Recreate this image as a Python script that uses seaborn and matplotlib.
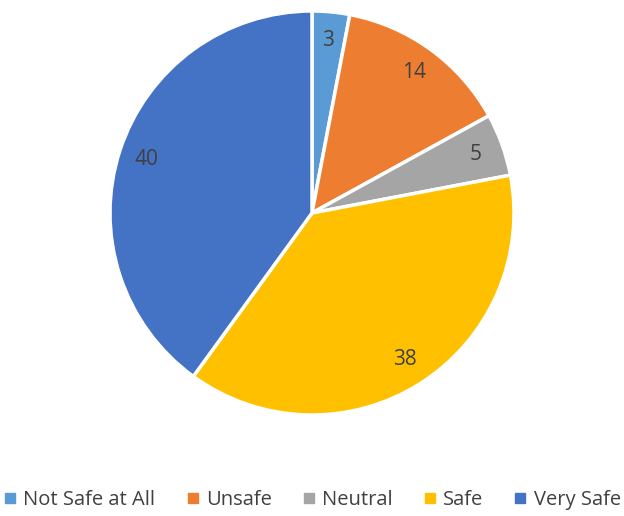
import matplotlib
matplotlib.use("Agg")
import matplotlib.pyplot as plt
from matplotlib.lines import Line2D
import seaborn as sns

categories = ["Not Safe at All", "Unsafe", "Neutral", "Safe", "Very Safe"]
values = [3, 14, 5, 38, 40]
colors = ["#5B9BD5", "#ED7D31", "#A5A5A5", "#FFC000", "#4472C4"]

sns.set_theme(style="white")
plt.rcParams["font.family"] = ["Open Sans", "DejaVu Sans"]

fig = plt.figure(figsize=(6.24, 5.16), dpi=100)
r = 202
cx, cy = 312, 516 - 213
ax = fig.add_axes([(cx - r) / 624, (cy - r) / 516, 2 * r / 624, 2 * r / 516])

ax.pie(values, colors=colors, startangle=90, counterclock=False,
       labels=[str(v) for v in values], labeldistance=0.86,
       wedgeprops=dict(edgecolor="white", linewidth=2.5),
       textprops=dict(fontsize=15, color="#404040", ha="center", va="center"))
ax.set_xlim(-1, 1)
ax.set_ylim(-1, 1)
ax.set_aspect("equal")
ax.axis("off")

handles = [Line2D([0], [0], marker="s", color="none", markerfacecolor=c,
                  markeredgecolor=c, markersize=7) for c in colors]
fig.legend(handles, categories, loc="center", bbox_to_anchor=(0.5, 1 - 500 / 516),
           ncol=5, frameon=False, fontsize=14.5, handlelength=0.7, handletextpad=0.3,
           columnspacing=1.5, labelcolor="#404040")

fig.savefig("out.png", dpi=100)
